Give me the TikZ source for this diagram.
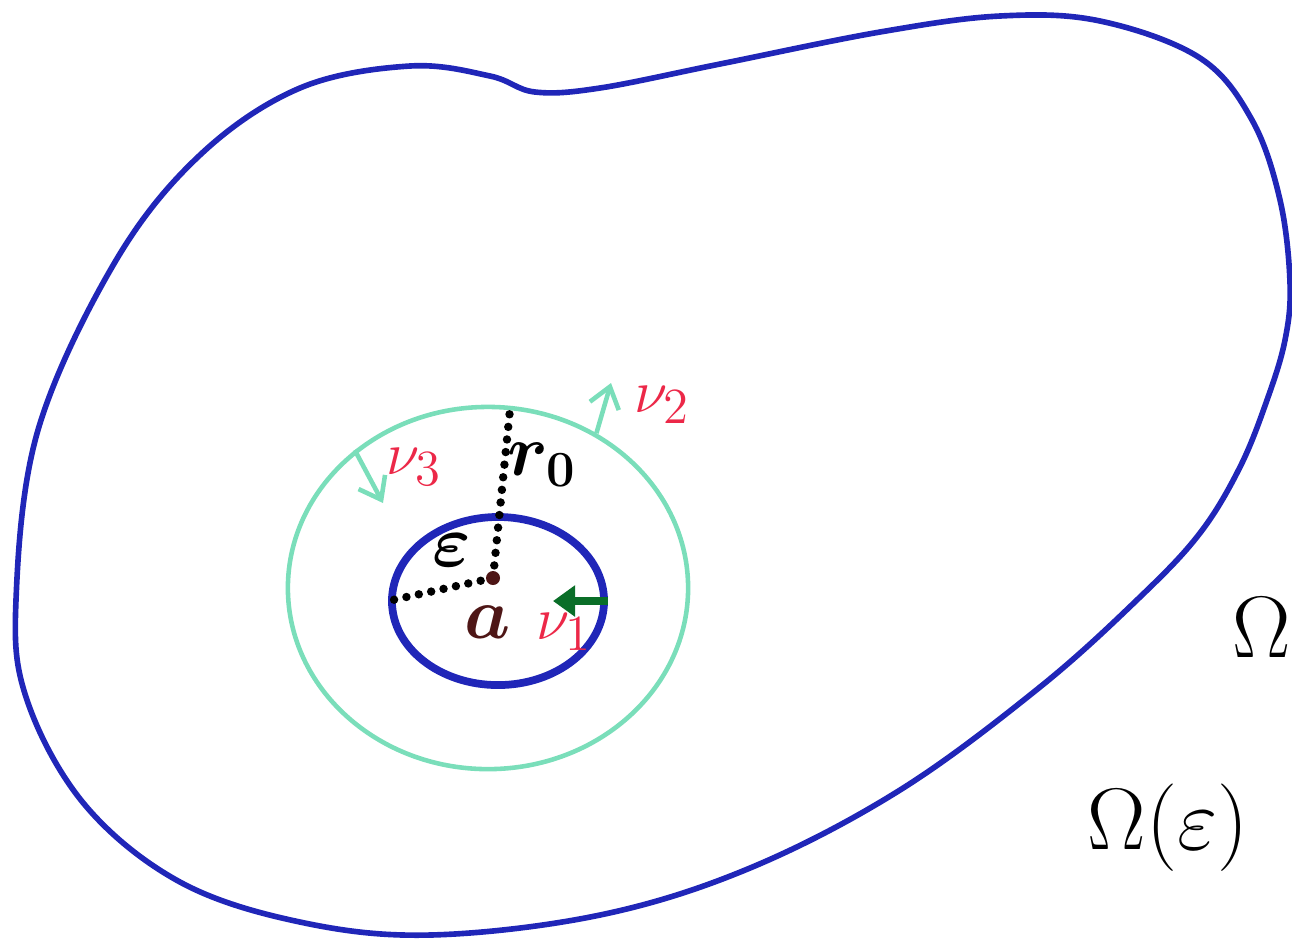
\documentclass[tikz,border=0pt]{standalone}
\usepackage{amsmath}
\usetikzlibrary{arrows.meta,positioning,shapes.geometric}
\definecolor{penblue}{RGB}{32,38,184}
\definecolor{penaqua}{RGB}{122,222,186}
\definecolor{pengreen}{RGB}{10,110,40}
\definecolor{penred}{RGB}{236,40,72}
\definecolor{penbrown}{RGB}{78,22,22}

\begin{document}
\begin{tikzpicture}[x=0.01cm, y=-0.01cm,
    outer/.style={draw=penblue, line width=1.6pt, line join=round},
    ring/.style={draw=penaqua, line width=1.3pt, ellipse, inner sep=0pt},
    hole/.style={draw=penblue, line width=2.2pt, ellipse, inner sep=0pt},
    dots/.style={line width=2.4pt, line cap=round, dash pattern=on 0pt off 3.6pt},
    nlab/.style={text=penred, font=\fontsize{19}{22}\selectfont},
    blab/.style={font=\fontsize{22}{26}\selectfont},
    arr/.style={-{Straight Barb[length=2mm, width=3mm]}, draw=penaqua, line width=1.3pt}
]
\useasboundingbox (0,0) rectangle (1292,941);

% the domain
\draw[outer] plot[smooth cycle, tension=0.6] coordinates {
    (1000,16) (1100,21) (1200,58) (1252,120) (1280,200) (1290,283) (1285,340)
    (1267,400) (1240,467) (1200,533) (1140,597) (1040,687) (900,790) (750,868)
    (600,915) (430,935) (300,922) (180,882) (85,805) (27,700) (16,600) (38,430)
    (115,262) (200,155) (300,88) (410,66) (490,76) (535,92) (600,88) (720,64)
    (880,32)};

% circles round a
\node[ring, minimum width=4cm, minimum height=3.62cm] (ring) at (488,588) {};
\node[hole, minimum width=2.12cm, minimum height=1.68cm] (hole) at (498,601) {};

\coordinate (a) at (493,578);
\coordinate (rtop) at (ring.83);
\coordinate (eleft) at (hole.west);
\draw[dots] (a) -- (rtop);
\draw[dots] (a) -- (eleft);
\fill[penbrown] (a) circle (7);

\node[blab, text=penbrown] (alab) at (488,622) {$\boldsymbol{a}$};
\node[blab] (rlab) at (542,465) {$\boldsymbol{r_0}$};
\node[blab] (elab) at (452,550) {$\boldsymbol{\varepsilon}$};

% normals
\coordinate (n1) at (553,601);
\coordinate (n2) at (611,383);
\coordinate (n3) at (383,503);
\draw[-{Triangle[length=2.2mm, width=3mm]}, draw=pengreen, fill=pengreen, line width=2.4pt] (hole.east) -- (n1);
\draw[arr] (ring.55) -- (n2);
\draw[arr] (ring.134) -- (n3);

\node[nlab] (nu1) at (564,632) {$\nu_1$};
\node[nlab] (nu2) at (662,405) {$\nu_2$};
\node[nlab] (nu3) at (414,467) {$\nu_3$};

% names of the regions
\node[font=\fontsize{30}{34}\selectfont] (om) at (1262,628) {$\Omega$};
\node[font=\fontsize{30}{34}\selectfont] (omeps) at (1168,828) {$\Omega(\varepsilon)$};
\end{tikzpicture}
\end{document}
